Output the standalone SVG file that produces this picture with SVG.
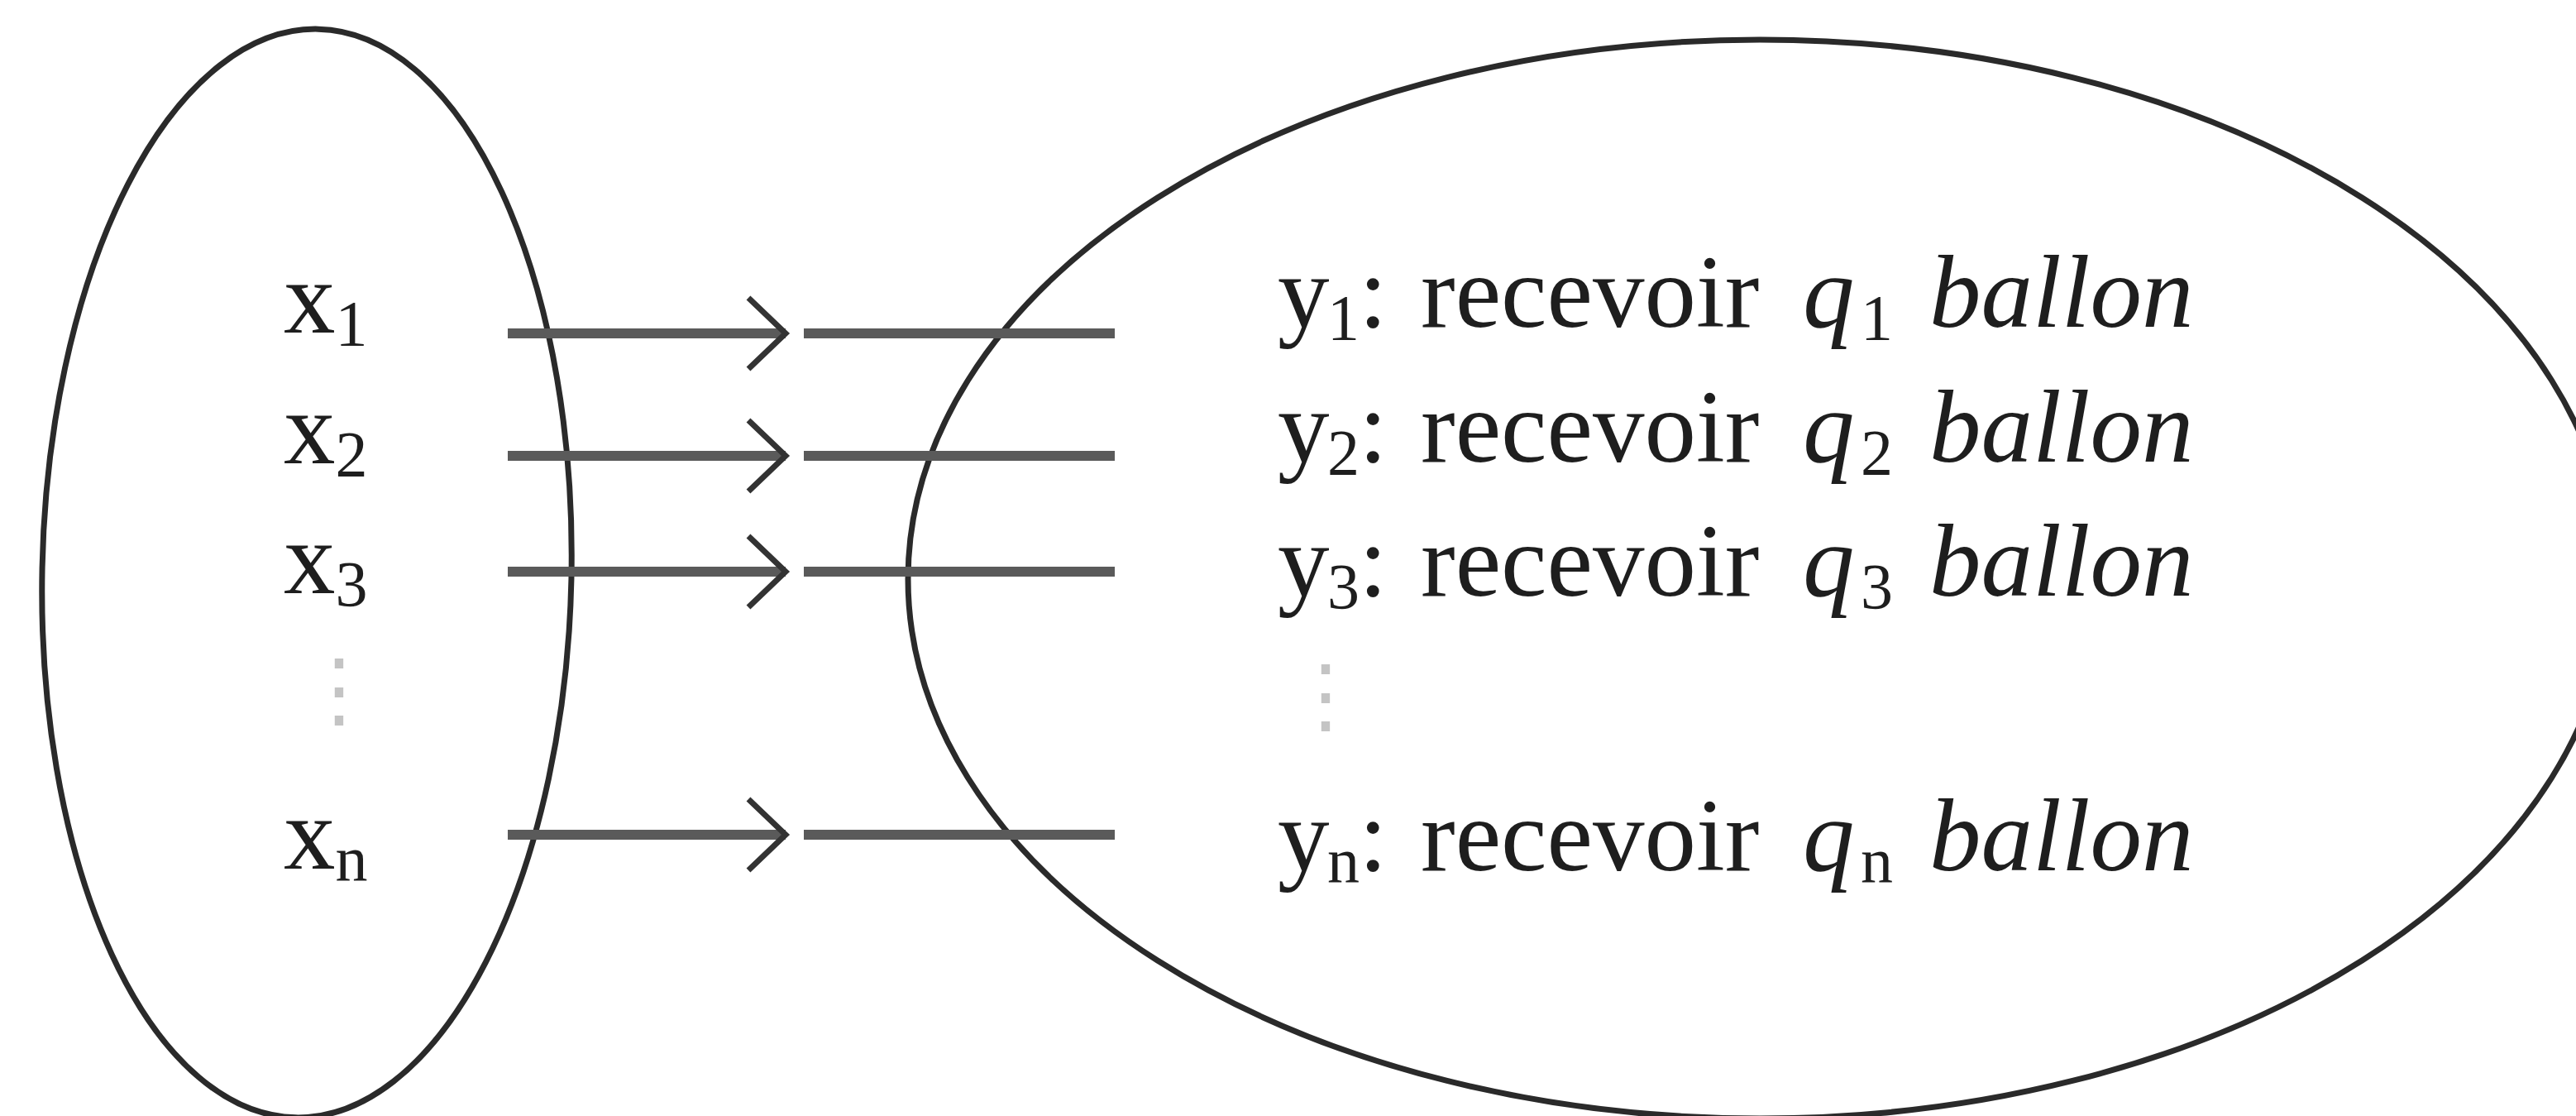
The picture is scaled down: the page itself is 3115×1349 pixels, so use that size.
<svg xmlns="http://www.w3.org/2000/svg" width="3115" height="1349" viewBox="0 0 3115 1349">
  <style>
    .set { fill: none; stroke: #2a2a2a; stroke-width: 7; }
    .line { fill: none; stroke: #5a5a5a; stroke-width: 12; }
    .head { fill: none; stroke: #333333; stroke-width: 7; stroke-linejoin: miter; }
    .lbl { font-family: "Liberation Serif", "Times New Roman", serif; font-size: 125px; fill: #1e1e1e; }
    .sub { font-size: 78px; }
    .it { font-style: italic; }
    .dots { font-family: "DejaVu Serif", serif; font-size: 100px; fill: #c4c4c4; }
  </style>
  <rect x="0" y="0" width="3115" height="1349" fill="#ffffff"/>

  <g id="set-X">
    <ellipse class="set" cx="371" cy="693" rx="320" ry="658" transform="rotate(1.2 371 693)"/>
  </g>
  <g id="set-Y">
    <ellipse class="set" cx="2128" cy="700" rx="1030" ry="652"/>
  </g>

  <g id="connectors">
    <path class="line" d="M614 403 H950 M972 403 H1348"/>
    <polyline class="head" points="905,360 950,403 905,446"/>
    <path class="line" d="M614 551 H950 M972 551 H1348"/>
    <polyline class="head" points="905,508 950,551 905,594"/>
    <path class="line" d="M614 691 H950 M972 691 H1348"/>
    <polyline class="head" points="905,648 950,691 905,734"/>
    <path class="line" d="M614 1009 H950 M972 1009 H1348"/>
    <polyline class="head" points="905,966 950,1009 905,1052"/>
  </g>

  <g id="x1"><text class="lbl" x="343" y="402">x<tspan class="sub" dy="15">1</tspan></text></g>
  <g id="x2"><text class="lbl" x="343" y="560">x<tspan class="sub" dy="15">2</tspan></text></g>
  <g id="x3"><text class="lbl" x="343" y="717">x<tspan class="sub" dy="15">3</tspan></text></g>
  <g id="x-dots"><text class="dots" x="360" y="868">⋮</text></g>
  <g id="xn"><text class="lbl" x="343" y="1050">x<tspan class="sub" dy="15">n</tspan></text></g>

  <g id="y1"><text class="lbl" y="395"><tspan x="1545">y</tspan><tspan class="sub" x="1605" dy="15">1</tspan><tspan x="1643" dy="-15">:</tspan><tspan x="1718">recevoir</tspan><tspan class="it" x="2180">q</tspan><tspan class="sub" x="2250" dy="15">1</tspan><tspan class="it" x="2333" dy="-15">ballon</tspan></text></g>
  <g id="y2"><text class="lbl" y="558"><tspan x="1545">y</tspan><tspan class="sub" x="1605" dy="15">2</tspan><tspan x="1643" dy="-15">:</tspan><tspan x="1718">recevoir</tspan><tspan class="it" x="2180">q</tspan><tspan class="sub" x="2250" dy="15">2</tspan><tspan class="it" x="2333" dy="-15">ballon</tspan></text></g>
  <g id="y3"><text class="lbl" y="720"><tspan x="1545">y</tspan><tspan class="sub" x="1605" dy="15">3</tspan><tspan x="1643" dy="-15">:</tspan><tspan x="1718">recevoir</tspan><tspan class="it" x="2180">q</tspan><tspan class="sub" x="2250" dy="15">3</tspan><tspan class="it" x="2333" dy="-15">ballon</tspan></text></g>
  <g id="y-dots"><text class="dots" x="1553" y="875">⋮</text></g>
  <g id="yn"><text class="lbl" y="1052"><tspan x="1545">y</tspan><tspan class="sub" x="1605" dy="15">n</tspan><tspan x="1643" dy="-15">:</tspan><tspan x="1718">recevoir</tspan><tspan class="it" x="2180">q</tspan><tspan class="sub" x="2250" dy="15">n</tspan><tspan class="it" x="2333" dy="-15">ballon</tspan></text></g>
</svg>
